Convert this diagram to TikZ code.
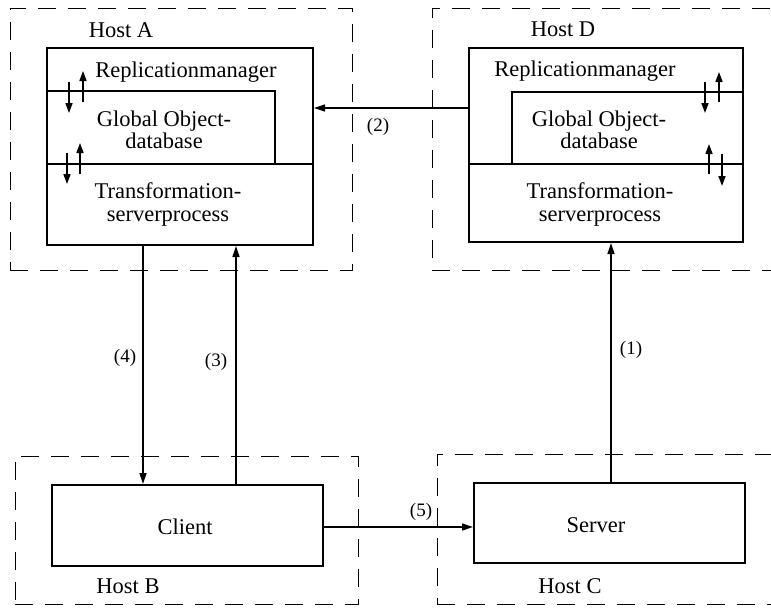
\documentclass[tikz,border=0pt]{standalone}
\usepackage{fontspec}
\setmainfont{Liberation Serif}
\usetikzlibrary{
  arrows.meta,
  calc,
  positioning,
}

\begin{document}
\begin{tikzpicture}[x=1pt,y=-1pt,
  font=\fontsize{22.5}{20}\selectfont,>={Triangle[length=11pt,width=7pt]},
  host/.style={draw,dash pattern=on 18pt off 12pt,line width=1pt,
    inner sep=0pt},
  proc/.style={draw,line width=2pt,inner sep=0pt},
  layer/.style={line width=2pt},
  txt/.style={inner sep=0pt,align=center},
  num/.style={font=\fontsize{19}{19}\selectfont,inner sep=0pt},
  msg/.style={->,line width=1.3pt},
  sync/.style={->,line width=1.6pt,>={Triangle[length=10pt,width=7pt]}}]
  \useasboundingbox (0,0) rectangle (771,608);
  %% hosts
  \node[host,minimum width=342pt,minimum height=262pt](HostA) at (181,139){};
  \node[host,minimum width=368pt,minimum height=262pt](HostD) at (616,139){};
  \node[host,minimum width=343pt,minimum height=148pt](HostB) at (186.5,530){};
  \node[host,minimum width=363pt,minimum height=150pt](HostC) at (618.5,529){};
  \node[txt](HostAlbl) at (121,30){Host A};
  \node[txt](HostDlbl) at (563,29){Host D};
  \node[txt](HostBlbl) at (128,586){Host B};
  \node[txt](HostClbl) at (570,586){Host C};
  %%
  \node[proc,minimum width=266pt,minimum height=197pt](boxA) at (180,146.5){};
  \node[proc,minimum width=274pt,minimum height=194pt](boxD) at (606,145){};
  \node[proc,minimum width=271pt,minimum height=81pt](client) at (187.5,525.5){};
  \node[proc,minimum width=271pt,minimum height=80pt](server) at (609.5,523){};
  %% layers of host A
  \coordinate(dbA) at (275,91);
  \coordinate(trA) at (0,164);
  \draw[layer] (boxA.west|-dbA) -- (dbA) -- (dbA|-trA);
  \draw[layer] (boxA.west|-trA) -- (boxA.east|-trA);
  \node[txt,anchor=base](repAtxt) at (186,77){Replicationmanager};
  \node[txt](dbAtxt) at (164,130){Global Object-\\database};
  \node[txt](trAtxt) at (168,204){Transformation-\\[3pt]serverprocess};
  \draw[sync] (69,82) -- (69,113);
  \draw[sync] (83,102) -- (83,71);
  \draw[sync] (67,153) -- (67,184);
  \draw[sync] (80,174) -- (80,143);
  %% layers of host D
  \coordinate(dbD) at (512,92);
  \coordinate(trD) at (0,164);
  \draw[layer] (boxD.east|-dbD) -- (dbD) -- (dbD|-trD);
  \draw[layer] (boxD.west|-trD) -- (boxD.east|-trD);
  \node[txt,anchor=base](repDtxt) at (585,76){Replicationmanager};
  \node[txt](dbDtxt) at (599,130){Global Object-\\database};
  \node[txt](trDtxt) at (600,204){Transformation-\\[3pt]serverprocess};
  \draw[sync] (719,102) -- (719,72);
  \draw[sync] (705,82) -- (705,113);
  \draw[sync] (709,174) -- (709,144);
  \draw[sync] (722,154) -- (722,186);
  %%
  \node[txt](clienttxt) at (185,527){Client};
  \node[txt](servertxt) at (596,525){Server};
  %% messages
  \coordinate(m1) at (611,0);
  \coordinate(m2) at (0,108);
  \coordinate(m3) at (236,0);
  \coordinate(m4) at (143,0);
  \coordinate(m5) at (0,527);
  \draw[msg] (server.north-|m1) -- (boxD.south-|m1);
  \draw[msg] (boxD.west|-m2) -- (boxA.east|-m2);
  \draw[msg] (client.north-|m3) -- (boxA.south-|m3);
  \draw[msg] (boxA.south-|m4) -- (client.north-|m4);
  \draw[msg] (client.east|-m5) -- (server.west|-m5);
  \node[num](n1) at (631,350){(1)};
  \node[num](n2) at (378,127){(2)};
  \node[num](n3) at (216,362){(3)};
  \node[num](n4) at (125,358){(4)};
  \node[num](n5) at (421,512){(5)};
\end{tikzpicture}
\end{document}
